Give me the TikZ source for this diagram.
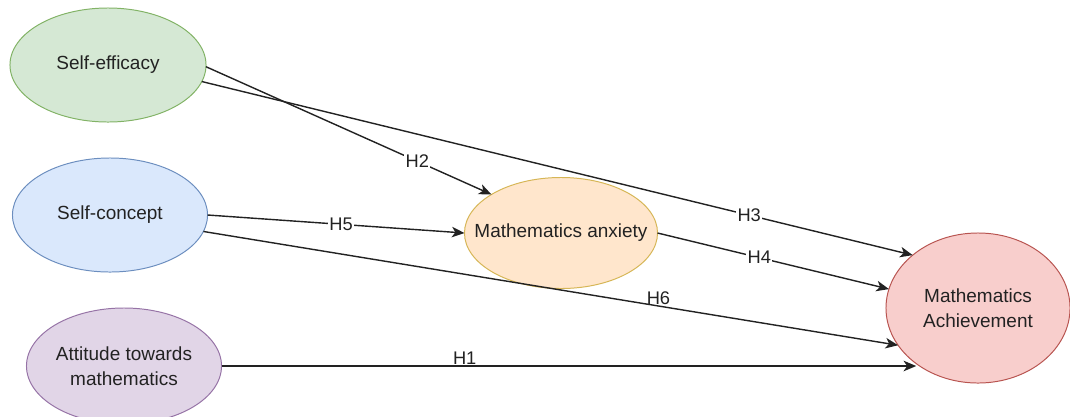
\documentclass[tikz,border=0pt]{standalone}
\usepackage{fontspec}
\setmainfont{Liberation Sans}
\usetikzlibrary{shapes.geometric,arrows.meta}
\definecolor{greenfill}{HTML}{D5E8D4}
\definecolor{greenline}{HTML}{82B366}
\definecolor{bluefill}{HTML}{DAE8FC}
\definecolor{blueline}{HTML}{6C8EBF}
\definecolor{purplefill}{HTML}{E1D5E7}
\definecolor{purpleline}{HTML}{9673A6}
\definecolor{orangefill}{HTML}{FFE6CC}
\definecolor{orangeline}{HTML}{D6B656}
\definecolor{redfill}{HTML}{F8CECC}
\definecolor{redline}{HTML}{B85450}
\definecolor{ink}{HTML}{222222}

\begin{document}
\begin{tikzpicture}[x=0.025cm,y=-0.025cm,
  latent/.style={ellipse,draw,line width=0.7pt,inner sep=0pt,outer sep=0pt},
  vartext/.style={font=\fontsize{13.5}{18}\selectfont,text=ink,align=center},
  link/.style={draw=ink,line width=1pt,-{Stealth[length=9pt,width=7.5pt,inset=2.5pt]}},
  hyp/.style={font=\fontsize{13}{15}\selectfont,text=ink,fill=white,inner sep=1pt},
  hypup/.style={font=\fontsize{13}{15}\selectfont,text=ink,above,inner sep=0.5pt}]
\useasboundingbox (0,0) rectangle (1070,416);
\node[latent,fill=greenfill,draw=greenline,minimum width=4.9cm,minimum height=2.85cm,
  label={[vartext]center:Self-efficacy}] (se) at (108,65) {};
\node[latent,fill=bluefill,draw=blueline,minimum width=4.875cm,minimum height=2.85cm,
  label={[vartext]center:Self-concept}] (sc) at (110,215) {};
\node[latent,fill=purplefill,draw=purpleline,minimum width=4.875cm,minimum height=2.9cm,
  label={[vartext]center:Attitude towards\\mathematics}] (at) at (124,366) {};
\node[latent,fill=orangefill,draw=orangeline,minimum width=4.825cm,minimum height=2.775cm,
  label={[vartext]center:Mathematics anxiety}] (ma) at (561,233) {};
\node[latent,fill=redfill,draw=redline,minimum width=4.6cm,minimum height=3.75cm,
  label={[vartext]center:Mathematics\\Achievement}] (ach) at (978,308) {};
\draw[link] (se.-1) -- node[hyp,pos=0.74] {H2} (ma.151);
\draw[link] (se.-10.5) -- node[hyp,pos=0.77] {H3} (ach.141);
\draw[link] (sc.east) -- node[hyp,pos=0.52] {H5} (ma.west);
\draw[link] (ma.east) -- node[hyp,pos=0.44] {H4} (ach.168);
\draw[link] (sc.-10) -- node[hypup,pos=0.655] {H6} (ach.205);
\draw[link] (at.east) -- node[hypup,pos=0.35] {H1} (ach.222 |- at.east);
\end{tikzpicture}
\end{document}
